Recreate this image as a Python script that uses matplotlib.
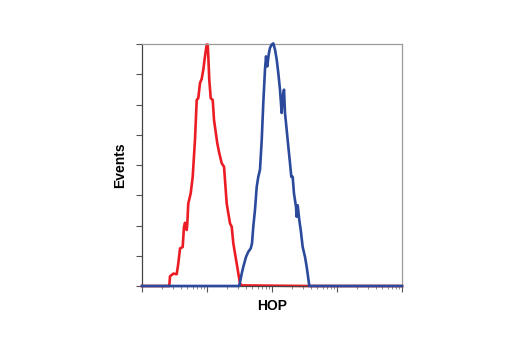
import numpy as np
import matplotlib
matplotlib.use("Agg")
import matplotlib.pyplot as plt
from matplotlib.ticker import LogLocator, FixedLocator, NullFormatter

# log10 fluorescence intensity and event counts (arbitrary units, 0-8)
red_log = [0.0, 0.40, 0.42, 0.431, 0.482, 0.534, 0.558, 0.585, 0.626, 0.646, 0.662, 0.688, 0.697,
           0.712, 0.749, 0.780, 0.815, 0.842, 0.866, 0.892, 0.918, 0.943, 0.969, 0.995,
           1.011, 1.020, 1.035, 1.057, 1.088, 1.108, 1.158, 1.189, 1.226, 1.262, 1.277,
           1.303, 1.328, 1.354, 1.380, 1.405, 1.457, 1.508, 1.534, 2.55, 4.0]
red_cnt = [0.0, 0.0, 0.0, 0.32, 0.41, 0.39, 0.74, 1.24, 1.29, 1.96, 2.09, 1.85, 2.07,
           2.73, 3.06, 3.61, 4.83, 6.15, 6.21, 6.71, 6.84, 7.15, 7.59, 7.98,
           7.98, 7.59, 6.82, 6.21, 6.15, 5.49, 4.72, 4.39, 4.06, 3.94, 3.50,
           2.73, 2.40, 2.07, 1.96, 1.41, 0.74, 0.08, 0.02, 0.0, 0.0]

blue_log = [0.0, 1.49, 1.497, 1.534, 1.558, 1.600, 1.635, 1.672, 1.692, 1.712, 1.738, 1.765,
            1.789, 1.815, 1.842, 1.866, 1.892, 1.908, 1.928, 1.949, 1.969, 1.995,
            2.020, 2.046, 2.072, 2.097, 2.123, 2.149, 2.165, 2.185, 2.200, 2.226,
            2.251, 2.277, 2.297, 2.318, 2.338, 2.369, 2.380, 2.395, 2.420, 2.442,
            2.472, 2.508, 2.534, 2.574, 4.0]
blue_cnt = [0.0, 0.0, 0.0, 0.41, 0.63, 0.96, 1.13, 1.24, 1.40, 1.96, 2.51, 3.28,
            3.61, 3.84, 4.83, 6.05, 7.15, 7.59, 7.26, 7.65, 7.87, 7.98,
            8.02, 7.82, 7.49, 7.04, 6.49, 5.72, 6.27, 6.49, 5.72, 5.16,
            4.61, 4.06, 3.61, 3.61, 3.06, 2.62, 2.29, 2.67, 2.18, 1.85,
            1.29, 0.96, 0.63, 0.0, 0.0]

xlabel = "HOP"
ylabel = "Events"

fig = plt.figure(figsize=(5.2, 3.5), dpi=100)
ax = fig.add_axes([142/520, 1-286/350, 260/520, 242/350])

ax.plot(10**np.array(red_log), red_cnt, color="#ec1c24", lw=1.9, solid_joinstyle="round", clip_on=False, zorder=2)
ax.plot(10**np.array(blue_log), blue_cnt, color="#2b4a9c", lw=1.9, solid_joinstyle="round", clip_on=False, zorder=3)

ax.set_xscale("log")
ax.set_xlim(1, 1e4)
ax.set_ylim(0, 8)

ax.xaxis.set_major_locator(LogLocator(base=10, numticks=10))
ax.xaxis.set_minor_locator(LogLocator(base=10, subs=np.arange(2, 10), numticks=20))
ax.xaxis.set_major_formatter(NullFormatter())
ax.xaxis.set_minor_formatter(NullFormatter())
ax.yaxis.set_major_locator(FixedLocator(np.arange(0, 9)))
ax.yaxis.set_major_formatter(NullFormatter())

ax.tick_params(axis="both", which="major", direction="out", length=4, width=0.8, color="#555555")
ax.tick_params(axis="x", which="minor", direction="out", length=2.5, width=0.6, color="#777777")

for s in ["top", "right"]:
    ax.spines[s].set_color("#9a9a9a")
    ax.spines[s].set_linewidth(0.9)
for s in ["left", "bottom"]:
    ax.spines[s].set_color("#444444")
    ax.spines[s].set_linewidth(0.9)

font = dict(family=["Liberation Sans", "DejaVu Sans"], fontweight="bold", fontsize=10)
ax.set_xlabel(xlabel, labelpad=2, **font)
ax.set_ylabel(ylabel, labelpad=3, **font)

fig.savefig("out.png", dpi=100)
